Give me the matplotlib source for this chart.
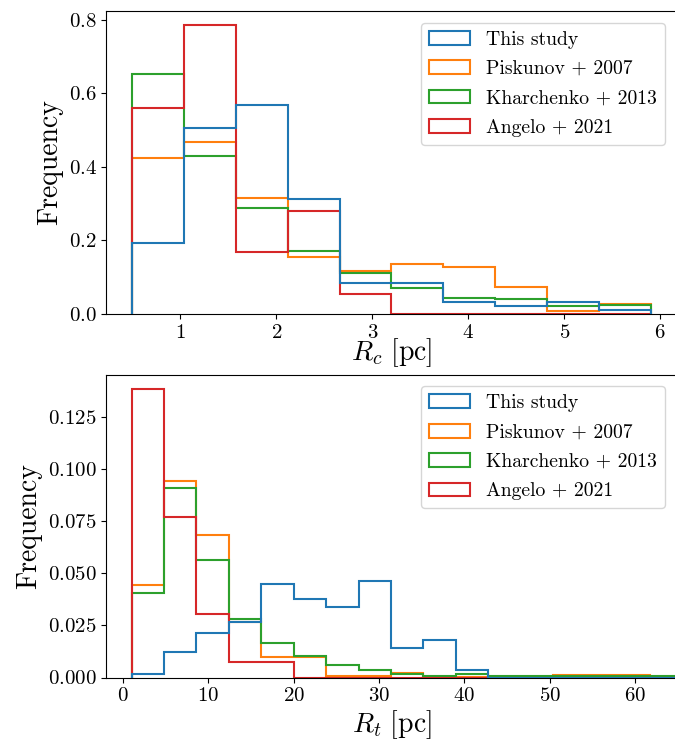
import numpy as np
from matplotlib import pyplot as plt

plt.rcParams['font.family'] = 'serif'
plt.rcParams['font.serif'] = ['cmr10', 'DejaVu Serif']
plt.rcParams['mathtext.fontset'] = 'cm'
plt.rcParams['axes.formatter.use_mathtext'] = True

labels = ['This study', 'Piskunov + 2007', 'Kharchenko + 2013', 'Angelo + 2021']
colors = ['tab:blue', 'tab:orange', 'tab:green', 'tab:red']

# core radius histograms (density), 10 shared bins from 0.5 to 5.9 pc
rc_edges = np.linspace(0.5, 5.9, 11)
rc_this = [0.193, 0.505, 0.569, 0.312, 0.085, 0.085, 0.032, 0.022, 0.033, 0.011]
rc_pisk = [0.424, 0.469, 0.316, 0.154, 0.118, 0.135, 0.127, 0.073, 0.009, 0.027]
rc_khar = [0.654, 0.431, 0.288, 0.171, 0.112, 0.070, 0.044, 0.041, 0.021, 0.024]
rc_ange = [0.561, 0.785, 0.168, 0.281, 0.055, 0.0, 0.0, 0.0, 0.0, 0.0]

# tidal radius histograms (density), shared bins of 3.8 pc starting at 1 pc
rt_edges = 1.0 + 3.8 * np.arange(19)
rt_this = [0.0017, 0.0123, 0.0214, 0.0268, 0.0448, 0.0377, 0.0340, 0.0466, 0.0143,
           0.0180, 0.0036, 0, 0, 0, 0, 0, 0, 0]
rt_pisk = [0.0443, 0.0945, 0.0687, 0.0267, 0.0100, 0.0100, 0.0007, 0.0007, 0.0023,
           0.0003, 0.0003, 0.0003, 0.0003, 0.0012, 0.0012, 0.0012, 0, 0]
rt_khar = [0.0408, 0.0913, 0.0563, 0.0281, 0.0167, 0.0105, 0.0059, 0.0036, 0.0017,
           0.0009, 0.0017, 0.0006, 0.0006, 0.0006, 0.0006, 0.0006, 0.0006, 0.0006]
rt_ange = [0.1385, 0.0772, 0.0307, 0.0075, 0.0075, 0, 0, 0, 0,
           0, 0, 0, 0, 0, 0, 0, 0, 0]

W, H = 675, 749
fig = plt.figure(figsize=(W / 100, H / 100), dpi=100)
ax1 = fig.add_axes([106.5 / W, 1 - 314 / H, 570 / W, 303 / H])
ax2 = fig.add_axes([106.5 / W, 1 - 677.5 / H, 570 / W, 303 / H])


def draw(ax, edges, series):
    centers = 0.5 * (edges[:-1] + edges[1:])
    for i, vals in enumerate(series):
        ax.hist(centers, bins=edges, weights=vals, histtype='step', color=colors[i],
                linewidth=1.5, label=labels[i], zorder=3 if i == 0 else 2)
    ax.legend(loc='upper right', fontsize=14.2, handlelength=2.1, labelspacing=0.58,
              borderaxespad=0.6)
    ax.set_ylabel('Frequency', fontsize=20)
    ax.tick_params(labelsize=15)


draw(ax1, rc_edges, [rc_this, rc_pisk, rc_khar, rc_ange])
ax1.set_xlabel(r'$R_c\ [\mathrm{pc}]$', fontsize=20, labelpad=-4)
ax1.set_xlim(0.23, 6.17)
ax1.set_ylim(0, 0.824)

draw(ax2, rt_edges, [rt_this, rt_pisk, rt_khar, rt_ange])
ax2.set_xlabel(r'$R_t\ [\mathrm{pc}]$', fontsize=20, labelpad=2)
ax2.set_xlim(-1.94, 64.85)
ax2.set_ylim(0, 0.1456)

plt.savefig('out.png', dpi=100)
